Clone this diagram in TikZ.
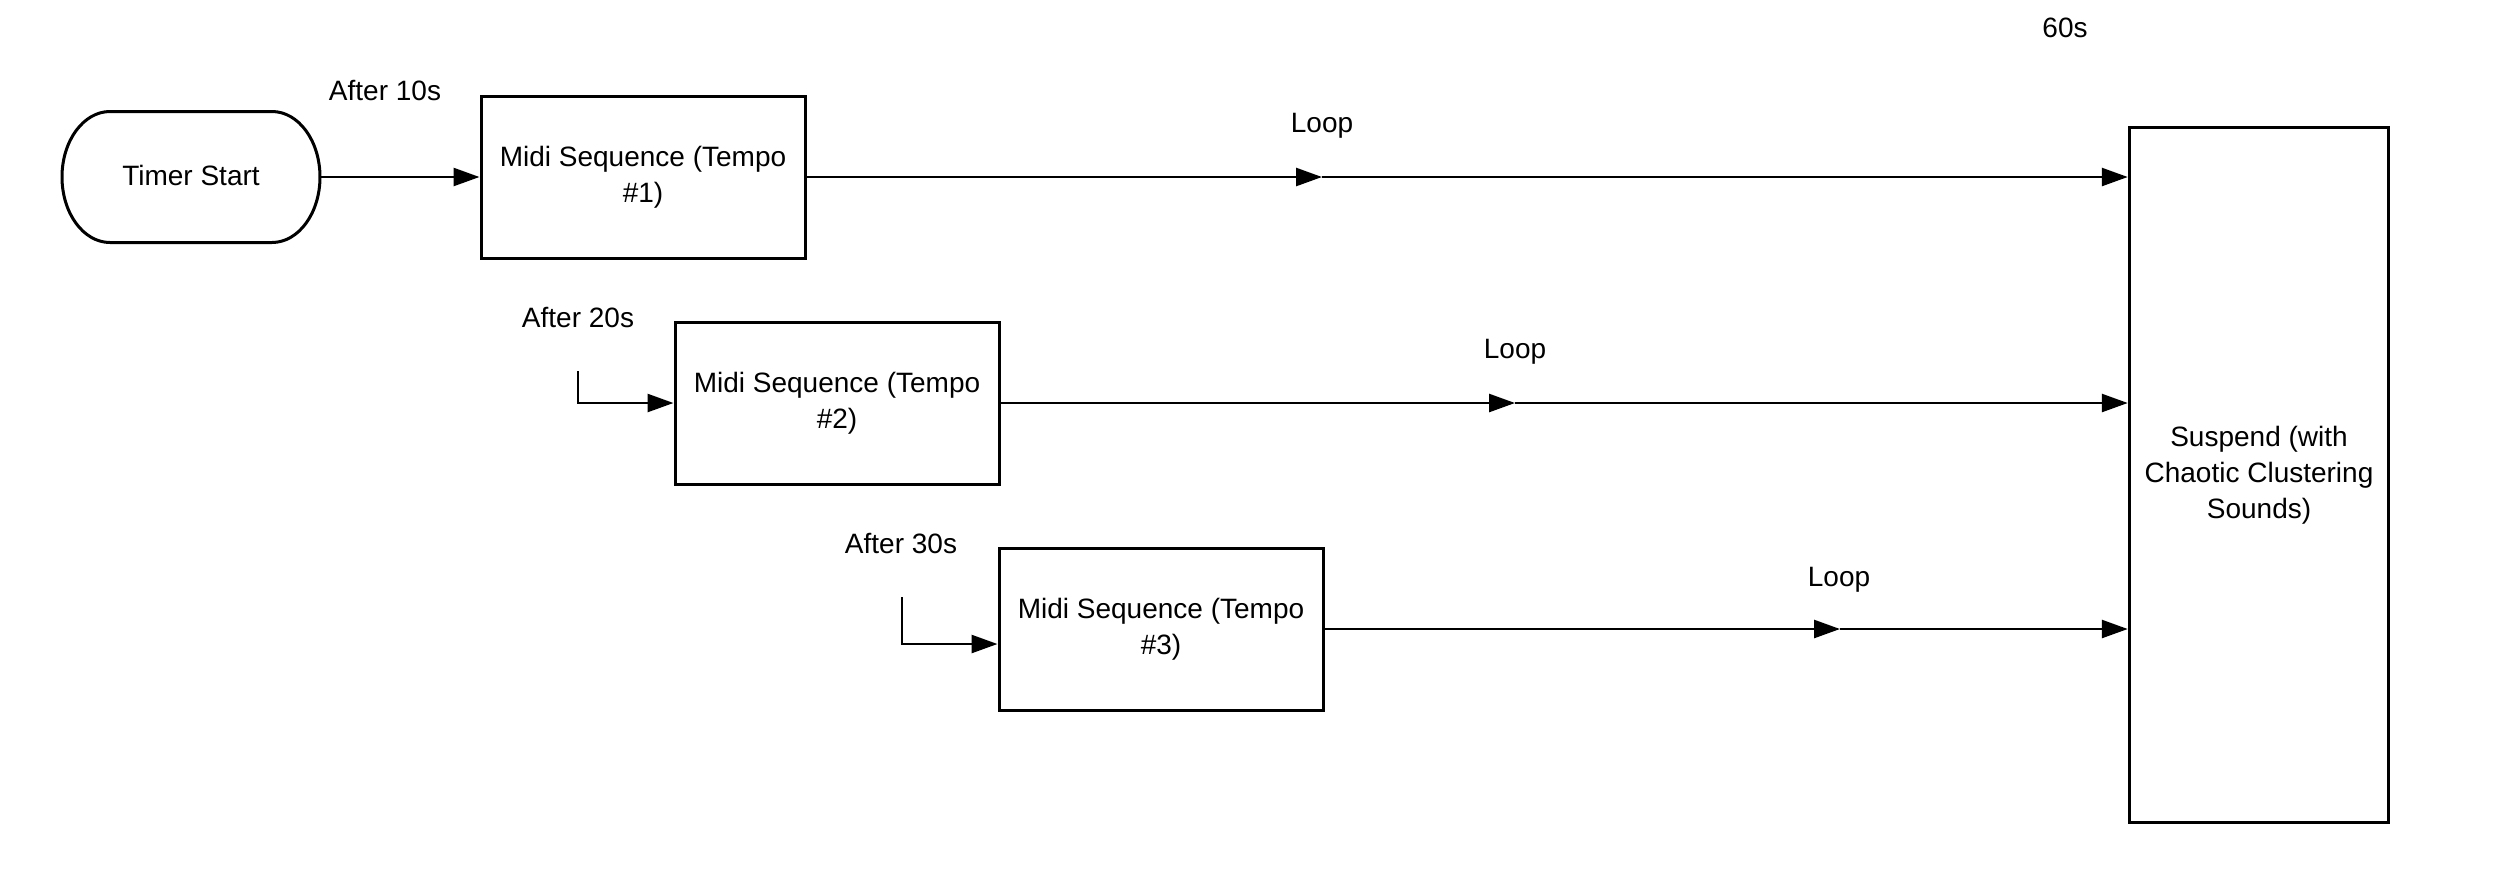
\documentclass[tikz,border=0pt]{standalone}
\usepackage{fontspec}
\setmainfont{Liberation Sans}
\usetikzlibrary{positioning, arrows.meta}

\begin{document}
\begin{tikzpicture}[x=0.5pt,y=-0.5pt]
	\tikzstyle{seqbox}=[rectangle,draw=black,line width=1.5pt,minimum width=162pt,minimum height=81pt,align=center,font=\fontsize{14pt}{18pt}\selectfont]
	\tikzstyle{lbl}=[font=\fontsize{14pt}{18pt}\selectfont]
	\tikzstyle{flow}=[line width=1.3pt,-{Triangle[length=13pt,width=9pt]}]
	\useasboundingbox (0,0) rectangle (2500,874);
	% start terminal
	\node[lbl,minimum width=129pt,minimum height=65.5pt,text depth=2pt,outer sep=0pt](start) at (191,177){Timer Start};
	\draw[line width=1.5pt] ([xshift=24pt]start.north west) -- ([xshift=-24pt]start.north east)
		arc[start angle=90,end angle=-90,x radius=24pt,y radius=32.75pt]
		-- ([xshift=24pt]start.south west)
		arc[start angle=270,end angle=90,x radius=24pt,y radius=32.75pt] -- cycle;
	% sequences
	\node[seqbox](seq1) at (643,177){Midi Sequence (Tempo\\\#1)};
	\node[seqbox](seq2) at (837,403){Midi Sequence (Tempo\\\#2)};
	\node[seqbox](seq3) at (1161,629){Midi Sequence (Tempo\\\#3)};
	\node[seqbox,minimum width=129.75pt,minimum height=347.5pt](suspend) at (2259,475){Suspend (with\\Chaotic Clustering\\Sounds)};
	% labels
	\node[lbl](after1) at (385,90){After 10s};
	\node[lbl](after2) at (578,317){After 20s};
	\node[lbl](after3) at (901,543){After 30s};
	\node[lbl](loop1) at (1322,126){Loop};
	\node[lbl](loop2) at (1515,352){Loop};
	\node[lbl](loop3) at (1839,580){Loop};
	\node[lbl](end) at (2065,28){60s};
	\coordinate(hook2) at (578,371);
	\coordinate(hook3) at (902,597);
	\coordinate(mid1) at (1322,177);
	\coordinate(mid2) at (1515,403);
	\coordinate(mid3) at (1840,629);
	% connectors
	\draw[flow] (start) -- (seq1);
	\draw[flow] (hook2) |- (seq2.west);
	\draw[flow] (hook3) |- ([yshift=-7.5pt]seq3.west);
	\draw[flow] (seq1) -- (mid1);
	\draw[flow] (mid1) -- (mid1 -| suspend.west);
	\draw[flow] (seq2) -- (mid2);
	\draw[flow] (mid2) -- (mid2 -| suspend.west);
	\draw[flow] (seq3) -- (mid3);
	\draw[flow] (mid3) -- (mid3 -| suspend.west);
\end{tikzpicture}
\end{document}
